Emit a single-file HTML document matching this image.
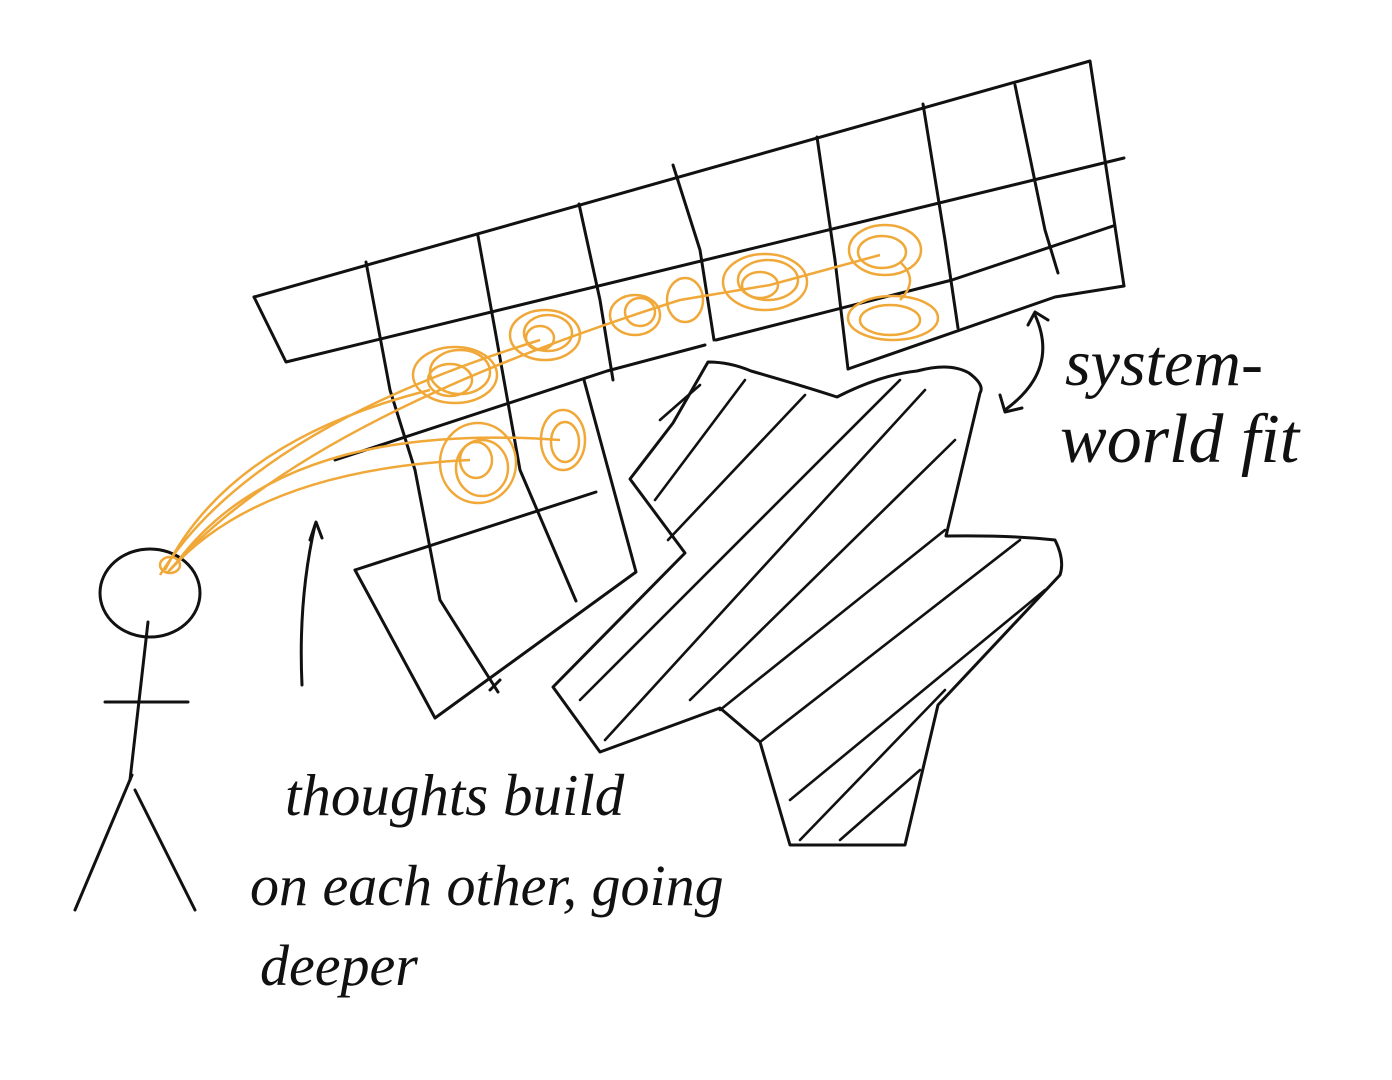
<!DOCTYPE html>
<html><head><meta charset="utf-8"><style>
html,body{margin:0;padding:0;background:#fff;}
svg{display:block}
text{font-family:"Liberation Serif",serif;font-style:italic;fill:#111}
</style></head><body>
<svg width="1392" height="1080" viewBox="0 0 1392 1080" xmlns="http://www.w3.org/2000/svg">
<g fill="none" stroke="#111" stroke-width="3" stroke-linecap="round" stroke-linejoin="round">
<path d="M254 297 L1090 61 L1124 286"/>
<path d="M254 297 L286 362 L1124 158"/>
<path d="M335 460 L607 371 L705 345"/>
<path d="M716 340 L952 280 L1113 226"/>
<path d="M848 369 L1055 297 L1124 286"/>
<path d="M366 262 L390 390 L415 470 L440 600 L498 692"/>
<path d="M478 236 L495 330 L520 470 L576 601"/>
<path d="M579 204 L600 300 L613 380"/>
<path d="M673 165 L700 250 L714 340"/>
<path d="M817 137 L835 260 L848 369"/>
<path d="M923 104 L945 240 L958 328"/>
<path d="M1015 85 L1045 230 L1058 273"/>
<path d="M355 570 L596 492"/>
<path d="M355 570 L435 718 L636 572 L584 380"/>
<path d="M490 690 L500 680"/>
<path d="M708 362 Q730 362 751 371 Q800 385 837 397 Q880 375 917 371 Q950 362 969 373 Q985 385 980 393 L946 536 Q1010 535 1055 540 Q1065 560 1060 575 L938 705 L905 845 L790 845 L760 742 L720 708 L600 752 L553 687 L685 553 L630 479 L673 423 Z"/>
<g stroke-width="2.6">
<path d="M700 385 L660 420"/>
<path d="M745 380 L655 500"/>
<path d="M805 395 L668 540"/>
<path d="M900 380 L580 700"/>
<path d="M925 390 L605 740"/>
<path d="M955 440 L690 700"/>
<path d="M945 530 L720 710"/>
<path d="M1020 540 L760 742"/>
<path d="M1045 590 L790 800"/>
<path d="M945 690 L800 840"/>
<path d="M920 770 L840 840"/>
</g>
<ellipse cx="150" cy="593" rx="50" ry="44"/>
<path d="M148 622 L130 780"/>
<path d="M105 702 L188 702"/>
<path d="M132 775 L75 910"/>
<path d="M135 790 L195 910"/>
<path d="M302 685 Q298 600 315 525"/>
<path d="M310 540 L316 522 L322 538"/>
<path d="M1005 410 Q1060 370 1035 315"/>
<path d="M1000 395 L1005 412 L1022 408"/>
<path d="M1028 325 L1035 312 L1048 320"/>
</g>
<g fill="none" stroke="#f0a838" stroke-width="2.5">
<path d="M165 570 Q230 440 430 390"/>
<path d="M160 575 Q250 430 540 340"/>
<path d="M170 570 Q260 470 470 460"/>
<path d="M175 565 Q280 420 560 440"/>
<path d="M168 572 Q300 420 680 300 L770 285 L880 255"/>
<path d="M900 262 Q920 280 900 300"/>
<g>
<ellipse cx="455" cy="375" rx="42" ry="28"/><ellipse cx="460" cy="372" rx="30" ry="22"/><ellipse cx="450" cy="380" rx="22" ry="16"/>
<ellipse cx="545" cy="335" rx="35" ry="25"/><ellipse cx="548" cy="333" rx="24" ry="18"/><ellipse cx="540" cy="338" rx="14" ry="12"/>
<ellipse cx="635" cy="315" rx="25" ry="20"/><ellipse cx="640" cy="312" rx="15" ry="14"/>
<ellipse cx="685" cy="300" rx="18" ry="22"/>
<ellipse cx="765" cy="282" rx="42" ry="28"/><ellipse cx="768" cy="280" rx="30" ry="20"/><ellipse cx="760" cy="285" rx="18" ry="13"/>
<ellipse cx="885" cy="250" rx="36" ry="25"/><ellipse cx="882" cy="252" rx="24" ry="16"/>
<ellipse cx="893" cy="318" rx="45" ry="22"/><ellipse cx="890" cy="320" rx="30" ry="15"/>
<ellipse cx="478" cy="463" rx="38" ry="40"/><ellipse cx="482" cy="468" rx="26" ry="28"/><ellipse cx="476" cy="460" rx="16" ry="18"/>
<ellipse cx="563" cy="440" rx="22" ry="30"/><ellipse cx="565" cy="442" rx="14" ry="20"/>
<ellipse cx="170" cy="565" rx="10" ry="8"/>
</g>
</g>
<text x="1065" y="385" font-size="66">system-</text>
<text x="1060" y="462" font-size="70">world fit</text>
<text x="285" y="815" font-size="59">thoughts build</text>
<text x="250" y="905" font-size="58">on each other, going</text>
<text x="260" y="985" font-size="58">deeper</text>
</svg>
</body></html>
